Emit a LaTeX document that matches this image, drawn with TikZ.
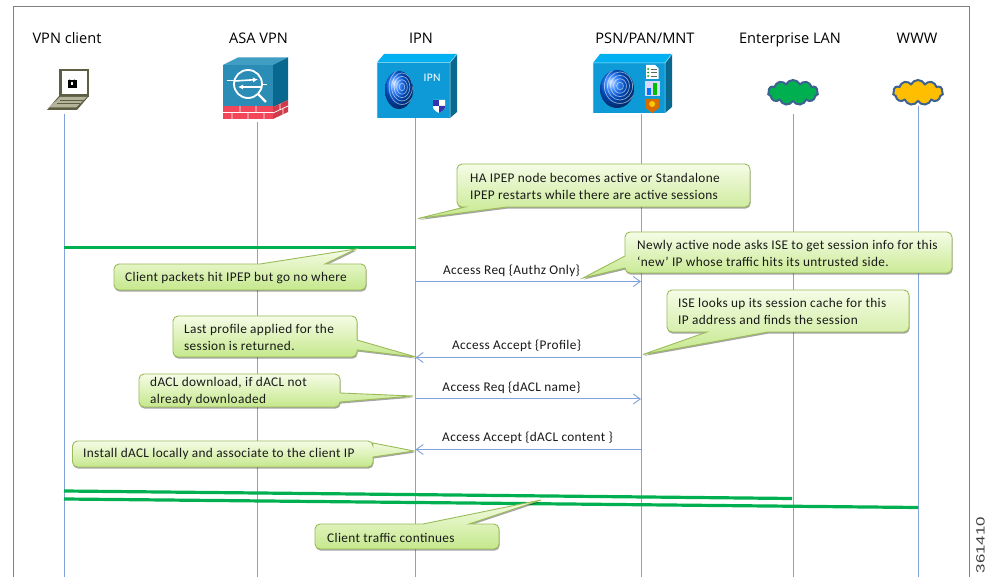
\documentclass[tikz,border=0pt]{standalone}
\usepackage{fontspec}
\setmainfont[LetterSpace=2.6]{Carlito}
\newfontfamily\titlefont{Open Sans}
\newfontfamily\numfont{Liberation Sans}
\usetikzlibrary{arrows.meta,shadows,shapes.symbols}
\definecolor{lifeblue}{HTML}{7FA3DA}
\definecolor{flowgreen}{HTML}{00B050}
\definecolor{edgegreen}{HTML}{9BBB59}
\definecolor{cubefront}{HTML}{0E9AD6}
\definecolor{cubetop}{HTML}{00B0F0}
\definecolor{cubeside}{HTML}{08688F}
\definecolor{asafront}{HTML}{2B8DB5}
\definecolor{asatop}{HTML}{3F9EC2}
\definecolor{brick}{HTML}{F2475A}
\definecolor{cloudedge}{HTML}{3D6292}
\definecolor{notetop}{HTML}{F5FCE6}
\definecolor{notebottom}{HTML}{C5E88C}
\definecolor{lapdark}{HTML}{5E5E44}
\definecolor{lapbase}{HTML}{B4B49A}
\tikzset{
  x=1pt,y=-1pt,
  titlelabel/.style={font=\titlefont\fontsize{14.6}{16}\selectfont,text=black,inner sep=0pt,anchor=base},
  msglabel/.style={font=\fontsize{13.3}{15}\selectfont,text=black!90,inner sep=0pt,anchor=center},
  notetext/.style={font=\fontsize{13.3}{17}\selectfont,text=black!90,inner sep=0pt,anchor=west,align=left},
  lifeline/.style={draw=lifeblue,line width=1pt},
  msgarrow/.style={draw=lifeblue,line width=1pt,-{Straight Barb[length=7pt,width=10pt,line width=0.9pt]}},
  flow/.style={draw=flowgreen,line width=3.2pt},
  callout/.style={draw=edgegreen,line width=0.9pt,top color=notetop,bottom color=notebottom,
     drop shadow={shadow xshift=0.6pt,shadow yshift=-1.6pt,opacity=.35,fill=black}},
  netcloud/.style={cloud,cloud puffs=11,cloud puff arc=130,aspect=2.1,draw=cloudedge,line width=2pt,inner sep=0pt,minimum width=50pt,minimum height=25pt},
}
\newcommand{\fprint}[4]{%
  \begin{scope}
    \shade[ball color=blue!60!cyan] (#1,#2) ellipse [x radius=#3,y radius=#4];
    \clip (#1,#2) ellipse [x radius=#3,y radius=#4];
    \foreach \r in {0.2,0.38,0.56,0.74,0.92}
      \draw[white,opacity=.55,line width=0.7pt] (#1+3,#2-3) ellipse [x radius=\r*#3,y radius=\r*#4];
  \end{scope}}
\newcommand{\cubeicon}[7]{% x1 x2 y1 y2 backdx backy sidebottom
  \fill[cubetop] (#1,#3) -- (#1+#5,#6) -- (#2+#5,#6) -- (#2,#3) -- cycle;
  \fill[cubeside] (#2,#3) -- (#2+#5,#6) -- (#2+#5,#7) -- (#2,#4) -- cycle;
  \fill[cubefront] (#1,#3) rectangle (#2,#4);
  \draw[white!70!cubetop,line width=0.5pt] (#1,#4) -- (#1,#3) -- (#2,#3) -- (#2,#4) (#2,#3) -- (#2+#5,#6);
}
\begin{document}
\begin{tikzpicture}
\useasboundingbox (0,0) rectangle (986,577);
\fill[white] (0,0) rectangle (986,577);
% frame
\draw[gray,line width=0.9pt] (13.5,577) -- (13.5,6) -- (969,6) -- (969,577);
% anchors
\coordinate (l1t) at (64,114);   \coordinate (l1b) at (64,577);
\coordinate (l2t) at (257,122);  \coordinate (l2b) at (257,577);
\coordinate (l3t) at (415.5,118);\coordinate (l3b) at (415.5,577);
\coordinate (l4t) at (641,114);  \coordinate (l4b) at (641,577);
\coordinate (l5t) at (793,114);  \coordinate (l5b) at (793,577);
\coordinate (l6t) at (918,106);  \coordinate (l6b) at (918,577);
\foreach \i in {1,...,6} \draw[lifeline] (l\i t) -- (l\i b);
\coordinate (m1a) at (415.5,281.5); \coordinate (m1b) at (641,281.5);
\coordinate (m2a) at (641,357.5);   \coordinate (m2b) at (415.5,357.5);
\coordinate (m3a) at (415.5,399); \coordinate (m3b) at (641,399);
\coordinate (m4a) at (641,449.5);   \coordinate (m4b) at (415.5,449.5);
\draw[msgarrow] (m1a) -- (m1b);
\draw[msgarrow] (m2a) -- (m2b);
\draw[msgarrow] (m3a) -- (m3b);
\draw[msgarrow] (m4a) -- (m4b);
% green flows
\coordinate (f1a) at (64,247.5);  \coordinate (f1b) at (415.5,247.5);
\coordinate (f2a) at (64,491);  \coordinate (f2b) at (792,498.5);
\coordinate (f3a) at (64,499);  \coordinate (f3b) at (918,507.5);
\draw[flow] (f1a) -- (f1b);
\draw[flow] (f2a) -- (f2b);
\draw[flow] (f3a) -- (f3b);
% titles
\node[titlelabel] (t1) at (67,44) {VPN client};
\node[titlelabel] (t2) at (258.5,44) {ASA VPN};
\node[titlelabel] (t3) at (421,44) {IPN};
\node[titlelabel] (t4) at (645,44) {PSN/PAN/MNT};
\node[titlelabel] (t5) at (790,44) {Enterprise LAN};
\node[titlelabel] (t6) at (917,44) {WWW};
% laptop
\fill[lapdark] (59,69) -- (89,69) -- (89,97) -- (59,97) -- cycle;
\fill[white] (61.5,71.5) rectangle (86.5,94);
\fill[lapdark] (59,96) -- (89,96) -- (77,110) -- (47,110) -- cycle;
\fill[lapbase] (60,97) -- (87,97) -- (76,107.5) -- (49,107.5) -- cycle;
\draw[lapdark,line width=0.4pt] (60,100) -- (84,100) (57,103) -- (80,103);
\draw[black!35,line width=1.2pt] (69.4,79) arc[start angle=180,end angle=0,radius=2.6];
\fill[black] (67.5,80) rectangle (76.5,88);
\fill[white] (71.2,82.5) rectangle (72.8,85.5);
% ASA
\fill[asatop] (223,65) -- (238,57.5) -- (288,57.5) -- (273,65) -- cycle;
\fill[cubeside] (273,65) -- (288,57.5) -- (288,100) -- (273,107) -- cycle;
\fill[asafront] (223,65) rectangle (273,107);
\fill[brick] (223,106) rectangle (273,119);
\fill[brick!85!black] (273,107) -- (288,100) -- (288,112) -- (273,119) -- cycle;
\draw[white,line width=0.7pt] (223,112.5) -- (273,112.5) (240,106) -- (240,112.5) (256,106) -- (256,112.5) (232,112.5) -- (232,119) (248,112.5) -- (248,119) (264,112.5) -- (264,119)
   (273,113) -- (288,106) (280,104) -- (280,110) (283,109) -- (283,116);
\draw[white,line width=1.8pt] (248,84) circle (14);
\draw[white,line width=2.2pt] (258,94) -- (266,102);
\draw[white,line width=1pt] (226.5,81) -- (234,81) (262,85) -- (267,85);
\draw[white,line width=1.6pt,-{Latex[length=5pt,width=5pt]}] (235,81) -- (258,79.5);
\draw[white,line width=1.6pt,-{Latex[length=5pt,width=5pt]}] (262,87) -- (238,87);
% IPN
\cubeicon{377}{450}{62.5}{118}{7}{54}{112}
\fprint{399}{90}{14}{19}
\node[inner sep=0pt,text=white,font=\fontsize{11.5}{14}\selectfont] (ipntxt) at (432,78) {IPN};
\fill[white] (433,100) -- (445,100) -- (445,107) .. controls (445,110) and (441,112) .. (439,113) .. controls (437,112) and (433,110) .. (433,107) -- cycle;
\fill[blue!60!black!80] (433,100) -- (439,100) -- (439,106) -- (433,106) -- cycle;
\fill[blue!60!black!80] (439,106) -- (445,106) -- (445,107) .. controls (445,110) and (441,112) .. (439,113) -- cycle;
% PSN
\cubeicon{593}{665}{63}{113}{7}{54}{107}
\fprint{617}{89}{17}{19}
\fill[white] (646,65) -- (655,65) -- (658.5,68.5) -- (658.5,79) -- (646,79) -- cycle;
\foreach \yy in {69,72.5,76}{
  \fill[green!60!black] (648,\yy) circle (1);
  \draw[black!60,line width=0.5pt] (650.5,\yy) -- (657,\yy);}
\fill[white!85!blue] (645,81) rectangle (659.5,96);
\fill[blue!55!cyan] (646.5,88) rectangle (650.5,95.5);
\fill[green!75!black] (652.5,83) rectangle (657,95.5);
\fill[orange!85!black] (645.5,99) -- (659,99) -- (659,108) -- (652.2,113) -- (645.5,108) -- cycle;
\fill[yellow!60!orange] (652.2,104) circle (3);
% clouds
\node[netcloud,fill=flowgreen] (c1) at (793,92.5) {};
\node[netcloud,fill=orange!50!yellow] (c2) at (918,92.5) {};
% callouts
\path[callout] (600,164) [rounded corners=5pt] -- (750,164) -- (750,207) [sharp corners] -- (507,207) -- (418,218.5) -- (465,207) [rounded corners=5pt] -- (457,207) -- (457,164) -- cycle;
\path[callout] (200,264) [sharp corners] -- (260,264) -- (356,249) -- (325,264) [rounded corners=5pt] -- (366,264) -- (366,290) -- (114,290) -- (114,264) -- cycle;
\path[callout] (260,316) [rounded corners=5pt] -- (357,316) [sharp corners] -- (357,340) -- (416,357) -- (357,350) [rounded corners=5pt] -- (357,357) -- (173,357) -- (173,316) -- cycle;
\path[callout] (780,232) [rounded corners=5pt] -- (952,232) -- (952,273) -- (625,273) [sharp corners] -- (625,268) -- (583,278) -- (625,256) [rounded corners=5pt] -- (625,232) -- cycle;
\path[callout] (780,290) [rounded corners=5pt] -- (909,290) -- (909,332) [sharp corners] -- (768,332) -- (643,354.5) -- (707,332) [rounded corners=5pt] -- (667,332) -- (667,290) -- cycle;
\path[callout] (240,374) [rounded corners=5pt] -- (340,374) [sharp corners] -- (340,393) -- (413,396) -- (340,402) [rounded corners=5pt] -- (340,407) -- (139,407) -- (139,374) -- cycle;
\path[callout] (220,441) [rounded corners=5pt] -- (373,441) [sharp corners] -- (373,443) -- (414,451) -- (373,457) [rounded corners=5pt] -- (373,467) -- (72.5,467) -- (72.5,441) -- cycle;
\path[callout] (400,524) [sharp corners] -- (423,524) -- (541,500) -- (469,524) [rounded corners=5pt] -- (499,524) -- (499,549) -- (315,549) -- (315,524) -- cycle;
% callout texts
\node[notetext] (n1) at (470,186) {HA IPEP node becomes active or Standalone\\IPEP restarts while there are active sessions};
\node[notetext] (n2) at (125,278.5) {Client packets hit IPEP but go no where};
\node[notetext] (n3) at (184,337) {Last profile applied for the\\session is returned.};
\node[notetext] (n4) at (637,253) {Newly active node asks ISE to get session info for this\\‘new’ IP whose traffic hits its untrusted side.};
\node[notetext] (n5) at (678,311) {ISE looks up its session cache for this\\IP address and finds the session};
\node[notetext] (n6) at (150,391) {dACL download, if dACL not\\already downloaded};
\node[notetext] (n7) at (83,453.5) {Install dACL locally and associate to the client IP};
\node[notetext] (n8) at (327,537.5) {Client traffic continues};
% message labels
\node[msglabel] (a1) at (511.5,271) {Access Req \{Authz Only\}};
\node[msglabel] (a2) at (516.5,346) {Access Accept \{Profile\}};
\node[msglabel] (a3) at (511.5,388) {Access Req \{dACL name\}};
\node[msglabel] (a4) at (527.5,438) {Access Accept \{dACL content \}};
% figure number
\node[inner sep=0pt,anchor=east,rotate=90,text=black!75] (num) at (980.5,517) {\numfont\fontsize{12}{13}\selectfont\scalebox{1.4}[1]{361410}};
\end{tikzpicture}
\end{document}
